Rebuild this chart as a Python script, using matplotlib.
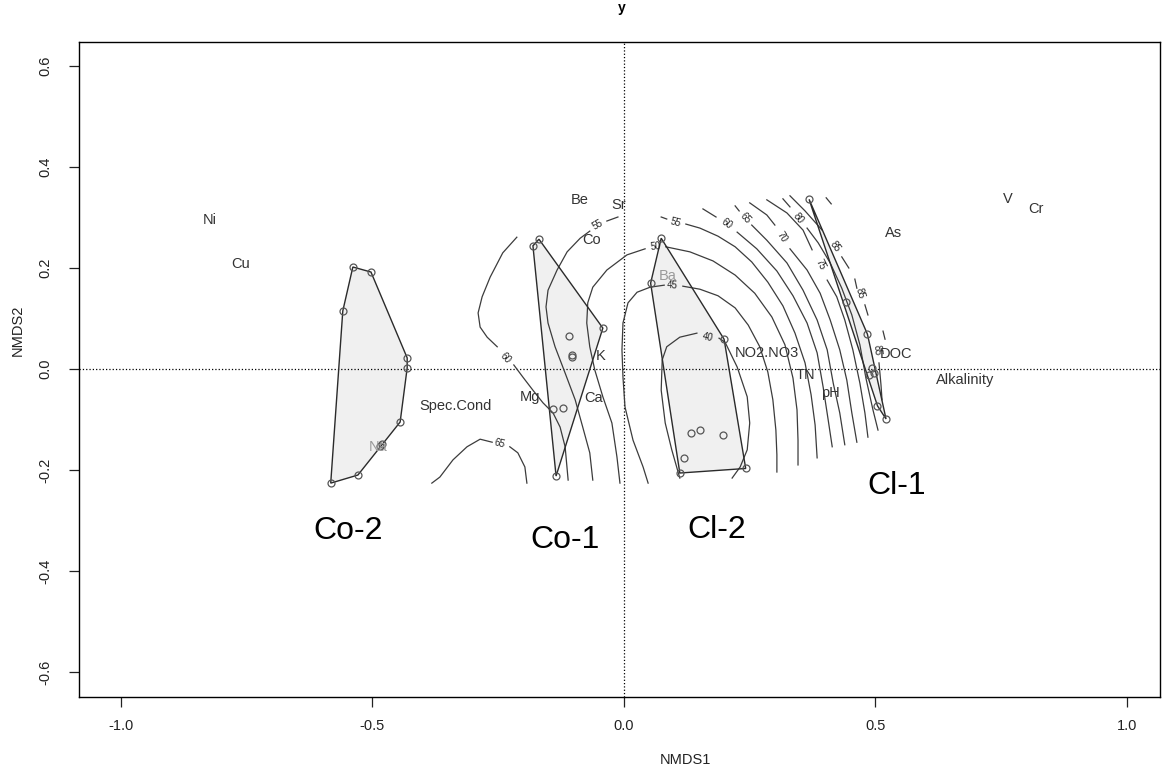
import math
import matplotlib
matplotlib.use("Agg")
import matplotlib.pyplot as plt
from matplotlib.patches import Polygon

plt.rcParams['font.family'] = ['Liberation Sans', 'DejaVu Sans']
plt.rcParams['axes.unicode_minus'] = False

# site scores per group (NMDS1, NMDS2)
co2_x = [-0.583, -0.529, -0.485, -0.482, -0.445, -0.431, -0.431, -0.503, -0.539, -0.559]
co2_y = [-0.226, -0.210, -0.152, -0.149, -0.105, 0.002, 0.022, 0.192, 0.202, 0.115]
co1_x = [-0.181, -0.169, -0.042, -0.109, -0.103, -0.103, -0.141, -0.121, -0.135]
co1_y = [0.244, 0.257, 0.081, 0.065, 0.024, 0.028, -0.079, -0.077, -0.212]
cl2_x = [0.074, 0.053, 0.199, 0.133, 0.151, 0.197, 0.119, 0.111, 0.242]
cl2_y = [0.259, 0.170, 0.059, -0.127, -0.121, -0.131, -0.176, -0.206, -0.197]
cl1_x = [0.368, 0.441, 0.484, 0.493, 0.497, 0.487, 0.504, 0.521]
cl1_y = [0.336, 0.133, 0.069, 0.002, -0.008, -0.012, -0.073, -0.099]

groups = ["Co-2", "Co-1", "Cl-2", "Cl-1"]
group_x = [-0.549, -0.117, 0.185, 0.543]
group_y = [-0.321, -0.339, -0.319, -0.232]

# variable scores
species = ["Ni", "Cu", "Be", "Sr", "Co", "Ba", "K", "Mg", "Ca", "Spec.Cond", "Na",
           "NO2.NO3", "TN", "pH", "DOC", "As", "Alkalinity", "V", "Cr"]
sp_x = [-0.823, -0.763, -0.089, -0.010, -0.064, 0.087, -0.046, -0.187, -0.060, -0.334, -0.489,
        0.284, 0.360, 0.410, 0.541, 0.535, 0.678, 0.763, 0.819]
sp_y = [0.295, 0.208, 0.335, 0.325, 0.255, 0.184, 0.026, -0.055, -0.057, -0.073, -0.154,
        0.032, -0.012, -0.048, 0.030, 0.269, -0.022, 0.337, 0.317]
faded = ["Ba", "Na"]

# fitted surface contours (ordisurf), broken where labels sit
contour_lines = {
    40: [[(0.111, -0.216), (0.095, -0.160), (0.082, -0.107), (0.074, -0.042), (0.076, 0.018),
          (0.085, 0.044), (0.111, 0.063), (0.145, 0.071)],
         [(0.189, 0.061), (0.201, 0.053), (0.225, 0.004), (0.245, -0.055), (0.250, -0.107),
          (0.245, -0.160), (0.231, -0.194), (0.215, -0.216)]],
    45: [[(0.048, -0.226), (0.038, -0.194), (0.018, -0.141), (0.002, -0.075), (-0.002, -0.016),
          (-0.004, 0.038), (-0.002, 0.091), (0.008, 0.131), (0.026, 0.152), (0.052, 0.162),
          (0.080, 0.166)],
         [(0.117, 0.164), (0.151, 0.158), (0.187, 0.145), (0.221, 0.121), (0.247, 0.087),
          (0.270, 0.044), (0.286, -0.006), (0.296, -0.061), (0.302, -0.121), (0.304, -0.170),
          (0.304, -0.204)]],
    50: [[(-0.008, -0.226), (-0.014, -0.174), (-0.024, -0.107), (-0.042, -0.055), (-0.058, -0.002),
          (-0.068, 0.044), (-0.074, 0.091), (-0.072, 0.131), (-0.062, 0.162), (-0.034, 0.196),
          (0.006, 0.226), (0.042, 0.238)],
         [(0.083, 0.242), (0.131, 0.232), (0.177, 0.214), (0.221, 0.186), (0.260, 0.150),
          (0.294, 0.103), (0.320, 0.048), (0.336, -0.018), (0.344, -0.081), (0.346, -0.141),
          (0.346, -0.190)]],
    55: [[(-0.062, -0.220), (-0.068, -0.166), (-0.082, -0.115), (-0.097, -0.061), (-0.117, -0.008),
          (-0.137, 0.044), (-0.151, 0.091), (-0.155, 0.123), (-0.151, 0.156), (-0.133, 0.196),
          (-0.113, 0.232), (-0.087, 0.259), (-0.068, 0.273)],
         [(-0.034, 0.293), (-0.012, 0.301)],
         [(0.074, 0.301), (0.085, 0.297)],
         [(0.123, 0.287), (0.151, 0.279), (0.187, 0.263), (0.221, 0.242), (0.254, 0.212),
          (0.286, 0.172), (0.316, 0.125), (0.340, 0.071), (0.360, 0.012), (0.372, -0.051),
          (0.380, -0.111), (0.384, -0.176)]],
    60: [[(-0.213, 0.261), (-0.241, 0.230), (-0.266, 0.182), (-0.282, 0.143), (-0.290, 0.111),
          (-0.286, 0.083), (-0.272, 0.063), (-0.252, 0.044)],
         [(-0.219, 0.008), (-0.201, -0.016), (-0.181, -0.042), (-0.161, -0.067), (-0.141, -0.087),
          (-0.127, -0.115), (-0.117, -0.154), (-0.111, -0.220)],
         [(0.157, 0.317), (0.183, 0.301)],
         [(0.225, 0.271), (0.264, 0.238), (0.304, 0.194), (0.336, 0.145), (0.364, 0.091),
          (0.384, 0.032), (0.396, -0.036), (0.406, -0.101), (0.414, -0.154)]],
    65: [[(-0.382, -0.226), (-0.366, -0.214), (-0.340, -0.180), (-0.312, -0.154), (-0.286, -0.139),
          (-0.262, -0.145)],
         [(-0.227, -0.154), (-0.211, -0.166), (-0.197, -0.194), (-0.193, -0.226)],
         [(0.221, 0.323), (0.229, 0.313)],
         [(0.254, 0.285), (0.284, 0.255), (0.324, 0.210), (0.356, 0.156), (0.384, 0.097),
          (0.404, 0.038), (0.416, -0.028), (0.429, -0.087), (0.439, -0.150)]],
    70: [[(0.250, 0.329), (0.284, 0.305), (0.300, 0.285)],
         [(0.330, 0.238), (0.364, 0.196), (0.390, 0.150), (0.410, 0.097), (0.429, 0.038),
          (0.443, -0.022), (0.453, -0.087), (0.463, -0.145)]],
    75: [[(0.284, 0.335), (0.324, 0.309), (0.356, 0.275), (0.374, 0.236)],
         [(0.404, 0.176), (0.423, 0.143), (0.439, 0.097), (0.455, 0.038), (0.469, -0.028),
          (0.479, -0.087), (0.485, -0.135)]],
    80: [[(0.316, 0.337), (0.330, 0.321)],
         [(0.364, 0.279), (0.386, 0.250), (0.410, 0.210), (0.433, 0.160), (0.453, 0.107),
          (0.469, 0.048), (0.481, -0.018), (0.495, -0.081), (0.505, -0.121)]],
    85: [[(0.330, 0.343), (0.360, 0.313), (0.394, 0.275)],
         [(0.433, 0.222), (0.447, 0.200)],
         [(0.479, 0.127), (0.485, 0.107)],
         [(0.507, 0.012), (0.511, -0.032), (0.513, -0.061)]],
    90: [[(0.402, 0.339), (0.412, 0.327)],
         [(0.459, 0.178), (0.463, 0.160)],
         [(0.515, 0.075), (0.519, 0.059)]],
}
contour_labels = {
    40: [(0.167, 0.063)],
    45: [(0.097, 0.166)],
    50: [(0.062, 0.242)],
    55: [(-0.052, 0.285), (0.103, 0.291)],
    60: [(-0.235, 0.022), (0.205, 0.287)],
    65: [(-0.247, -0.147), (0.241, 0.299)],
    70: [(0.314, 0.261)],
    75: [(0.390, 0.206)],
    80: [(0.346, 0.299)],
    85: [(0.419, 0.242), (0.469, 0.150), (0.503, 0.038)],
}


def convex_hull(xs, ys):
    pts = sorted(set(zip(xs, ys)))

    def cross(o, a, b):
        return (a[0] - o[0]) * (b[1] - o[1]) - (a[1] - o[1]) * (b[0] - o[0])

    lower, upper = [], []
    for p in pts:
        while len(lower) >= 2 and cross(lower[-2], lower[-1], p) <= 0:
            lower.pop()
        lower.append(p)
    for p in reversed(pts):
        while len(upper) >= 2 and cross(upper[-2], upper[-1], p) <= 0:
            upper.pop()
        upper.append(p)
    return lower[:-1] + upper[:-1]


fig = plt.figure(figsize=(11.63, 7.71), dpi=100)
ax = fig.add_axes([0.0679, 0.096, 0.9295, 0.8495])
ax.set_xlim(-1.0835, 1.0656)
ax.set_ylim(-0.6495, 0.6475)

ax.axhline(0, color='black', ls=':', lw=0.9, zorder=1.5)
ax.axvline(0, color='black', ls=':', lw=0.9, zorder=1.5)

# group hulls
for gx, gy in [(co2_x, co2_y), (co1_x, co1_y), (cl2_x, cl2_y), (cl1_x, cl1_y)]:
    h = convex_hull(gx, gy)
    ax.add_patch(Polygon(h, closed=True, facecolor='#f0f0f0', edgecolor='none', zorder=1))
    ax.add_patch(Polygon(h, closed=True, facecolor='none', edgecolor='#2b2b2b', lw=1.0, zorder=3))
    ax.plot(gx, gy, 'o', ms=5, mfc='none', mec='#555555', mew=0.9, zorder=4)

# surface contours
for lev, segs in contour_lines.items():
    for seg in segs:
        sx, sy = zip(*seg)
        ax.plot(sx, sy, color='#3c3c3c', lw=0.9, zorder=2)
    pts = [p for seg in segs for p in seg]
    for lx, ly in contour_labels.get(lev, []):
        near = sorted(pts, key=lambda p: (p[0] - lx) ** 2 + (p[1] - ly) ** 2)[:2]
        (x0, y0), (x1, y1) = ax.transData.transform(near)
        if x1 < x0:
            x0, y0, x1, y1 = x1, y1, x0, y0
        ang = math.degrees(math.atan2(y1 - y0, x1 - x0))
        ax.text(lx, ly, str(lev), rotation=ang, rotation_mode='anchor', ha='center', va='center',
                fontsize=7, color='#222222', zorder=5)

for name, x, y in zip(species, sp_x, sp_y):
    col = '#9a9a9a' if name in faded else '#333333'
    ax.text(x, y, name, ha='center', va='center', fontsize=10.5, color=col, zorder=5)

for name, x, y in zip(groups, group_x, group_y):
    ax.text(x, y, name, ha='center', va='center', fontsize=23, color='black', zorder=5)

ax.set_xticks([-1.0, -0.5, 0.0, 0.5, 1.0])
ax.set_yticks([-0.6, -0.4, -0.2, 0.0, 0.2, 0.4, 0.6])
ax.tick_params(axis='both', direction='out', length=7, width=0.9, labelsize=10.5, colors='#222222')
ax.tick_params(axis='x', pad=9)
ax.tick_params(axis='y', pad=12)
for lab in ax.get_yticklabels():
    lab.set_rotation(90)
    lab.set_va('center')
for s in ax.spines.values():
    s.set_linewidth(1.0)

fig.text(0.589, 0.014, "NMDS1", ha='center', va='center', fontsize=10.5, color='#222222')
fig.text(0.0155, 0.572, "NMDS2", ha='center', va='center', rotation=90, fontsize=10.5, color='#222222')
fig.text(0.535, 0.99, "y", ha='center', va='center', fontsize=10, fontweight='bold')

fig.savefig("out.png", dpi=100)
